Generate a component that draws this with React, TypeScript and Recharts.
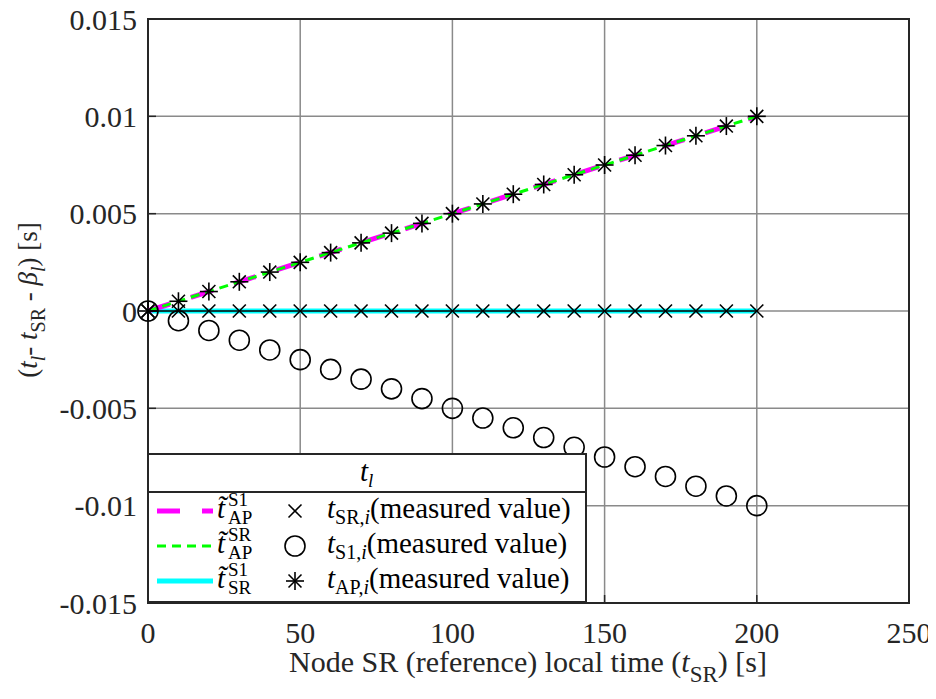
import React from "react";
import {
  ComposedChart,
  Line,
  XAxis,
  YAxis,
  CartesianGrid,
  ReferenceArea,
} from "recharts";

// node SR local time samples [s]
const xValues = [0, 10, 20, 30, 40, 50, 60, 70, 80, 90, 100, 110, 120, 130, 140, 150, 160, 170, 180, 190, 200];

// measured offsets (t_l - t_SR - beta_l) [s]
const srMeasured = [0, 0, 0, 0, 0, 0, 0, 0, 0, 0, 0, 0, 0, 0, 0, 0, 0, 0, 0, 0, 0];
const s1Measured = [0, -0.0005, -0.001, -0.0015, -0.002, -0.0025, -0.003, -0.0035, -0.004, -0.0045, -0.005, -0.0055, -0.006, -0.0065, -0.007, -0.0075, -0.008, -0.0085, -0.009, -0.0095, -0.01];
const apMeasured = [0, 0.0005, 0.001, 0.0015, 0.002, 0.0025, 0.003, 0.0035, 0.004, 0.0045, 0.005, 0.0055, 0.006, 0.0065, 0.007, 0.0075, 0.008, 0.0085, 0.009, 0.0095, 0.01];

// estimated offsets
const apEstViaS1 = [0, 0.0005, 0.001, 0.0015, 0.002, 0.0025, 0.003, 0.0035, 0.004, 0.0045, 0.005, 0.0055, 0.006, 0.0065, 0.007, 0.0075, 0.008, 0.0085, 0.009, 0.0095, 0.01];
const apEstViaSR = [0, 0.0005, 0.001, 0.0015, 0.002, 0.0025, 0.003, 0.0035, 0.004, 0.0045, 0.005, 0.0055, 0.006, 0.0065, 0.007, 0.0075, 0.008, 0.0085, 0.009, 0.0095, 0.01];
const srEstViaS1 = [0, 0, 0, 0, 0, 0, 0, 0, 0, 0, 0, 0, 0, 0, 0, 0, 0, 0, 0, 0, 0];

const xTicks = [0, 50, 100, 150, 200, 250];
const yTicks = [-0.015, -0.01, -0.005, 0, 0.005, 0.01, 0.015];

const data = xValues.map((x, i) => ({
  x,
  sr: srMeasured[i],
  s1: s1Measured[i],
  ap: apMeasured[i],
  estS1: apEstViaS1[i],
  estSR: apEstViaSR[i],
  estSr: srEstViaS1[i],
}));

const FONT = "Liberation Serif";
const INK = "#262626";

function Cross({ cx, cy, s = 6.5 }: { cx: number; cy: number; s?: number }) {
  return (
    <g stroke="#000" strokeWidth={1.6}>
      <line x1={cx - s} y1={cy - s} x2={cx + s} y2={cy + s} />
      <line x1={cx - s} y1={cy + s} x2={cx + s} y2={cy - s} />
    </g>
  );
}

function Ring({ cx, cy }: { cx: number; cy: number }) {
  return <circle cx={cx} cy={cy} r={10} fill="none" stroke="#000" strokeWidth={1.6} />;
}

function Star({ cx, cy, s = 9 }: { cx: number; cy: number; s?: number }) {
  const d = s * 0.72;
  return (
    <g stroke="#000" strokeWidth={1.6}>
      <line x1={cx} y1={cy - s} x2={cx} y2={cy + s} />
      <line x1={cx - s} y1={cy} x2={cx + s} y2={cy} />
      <line x1={cx - d} y1={cy - d} x2={cx + d} y2={cy + d} />
      <line x1={cx - d} y1={cy + d} x2={cx + d} y2={cy - d} />
    </g>
  );
}

const dotCross = (p: any) => <Cross key={`c${p.index}`} cx={p.cx} cy={p.cy} />;
const dotRing = (p: any) => <Ring key={`r${p.index}`} cx={p.cx} cy={p.cy} />;
const dotStar = (p: any) => <Star key={`s${p.index}`} cx={p.cx} cy={p.cy} />;

const fmtY = (v: number) => (v === 0 ? "0" : String(v));

function LegendBox() {
  const rows = [58, 93, 128];
  const base = [65, 100, 135];
  const subs = ["SR,", "S1,", "AP,"];
  const sups = ["S1", "SR", "S1"];
  const lows = ["AP", "AP", "SR"];
  return (
    <svg
      width={440}
      height={150}
      fontFamily={FONT}
      style={{ position: "absolute", left: 147, top: 453 }}
    >
      <rect x={1} y={1} width={438} height={148} fill="#fff" stroke={INK} strokeWidth={2} />
      <line x1={1} y1={39} x2={439} y2={39} stroke={INK} strokeWidth={2} />
      <text x={213} y={28} fontSize={29} fill="#000">
        <tspan fontStyle="italic">t</tspan>
        <tspan fontSize={19} fontStyle="italic" dy={6}>l</tspan>
      </text>

      {/* line samples */}
      <line x1={10} y1={rows[0]} x2={66} y2={rows[0]} stroke="#ff00ff" strokeWidth={5} strokeDasharray="23 22" />
      <line x1={10} y1={rows[1]} x2={66} y2={rows[1]} stroke="#00ff00" strokeWidth={3} strokeDasharray="9 6" />
      <line x1={10} y1={rows[2]} x2={66} y2={rows[2]} stroke="#00ffff" strokeWidth={5} />

      {rows.map((ry, i) => (
        <g key={i}>
          <text x={70} y={base[i]} fontSize={29} fontStyle="italic" fill="#000">
            {"t\u0303"}
          </text>
          <text x={81} y={base[i] - 12} fontSize={19} fill="#000">{sups[i]}</text>
          <text x={81} y={base[i] + 6} fontSize={19} fill="#000">{lows[i]}</text>
          {i === 0 && <Cross cx={148} cy={ry} />}
          {i === 1 && <Ring cx={148} cy={ry} />}
          {i === 2 && <Star cx={148} cy={ry} />}
          <text x={180} y={base[i]} fontSize={29} fill="#000">
            <tspan fontStyle="italic">t</tspan>
            <tspan fontSize={20} dy={6}>{subs[i]}</tspan>
            <tspan fontSize={20} fontStyle="italic">i</tspan>
            <tspan dy={-6}>(measured value)</tspan>
          </text>
        </g>
      ))}
    </svg>
  );
}

function AxisTitles() {
  return (
    <svg
      width={936}
      height={699}
      fontFamily={FONT}
      style={{ position: "absolute", left: 0, top: 0, pointerEvents: "none" }}
    >
      <text x={528} y={672} fontSize={30} fill={INK} textAnchor="middle">
        <tspan>Node SR (reference) local time (</tspan>
        <tspan fontStyle="italic">t</tspan>
        <tspan fontSize={23} dy={10}>SR</tspan>
        <tspan dy={-10}>) [s]</tspan>
      </text>
      <text
        x={0}
        y={0}
        fontSize={27}
        fill={INK}
        textAnchor="middle"
        transform="translate(37,300) rotate(-90)"
      >
        <tspan>(</tspan>
        <tspan fontStyle="italic">t</tspan>
        <tspan fontSize={20} fontStyle="italic" dy={8}>l</tspan>
        <tspan dy={-8}>- </tspan>
        <tspan fontStyle="italic">t</tspan>
        <tspan fontSize={20} dy={8}>SR</tspan>
        <tspan dy={-8}> - </tspan>
        <tspan fontStyle="italic">β</tspan>
        <tspan fontSize={20} fontStyle="italic" dy={8}>l</tspan>
        <tspan dy={-8}>) [s]</tspan>
      </text>
    </svg>
  );
}

export default function App() {
  const tick = { fill: INK, fontSize: 30, fontFamily: FONT };
  const tickLine = { stroke: INK, strokeWidth: 1.5 };
  return (
    <div style={{ position: "relative", width: 936, height: 699, margin: -8, background: "#fff", fontFamily: FONT }}>
      <ComposedChart
        width={936}
        height={699}
        data={data}
        margin={{ top: 19, right: 27, left: 0, bottom: 0 }}
      >
        <CartesianGrid stroke="#8a8a8a" strokeWidth={1.5} />
        <XAxis
          dataKey="x"
          type="number"
          domain={[0, 250]}
          ticks={xTicks}
          height={96}
          tick={tick}
          tickLine={tickLine}
          tickSize={-8}
          axisLine={false}
          tickMargin={27}
        />
        <YAxis
          type="number"
          domain={[-0.015, 0.015]}
          ticks={yTicks}
          width={148}
          tick={tick}
          tickLine={tickLine}
          tickSize={-8}
          axisLine={false}
          tickMargin={19}
          tickFormatter={fmtY}
        />
        <ReferenceArea
          x1={0}
          x2={250}
          y1={-0.015}
          y2={0.015}
          fill="none"
          stroke={INK}
          strokeWidth={2}
        />
        <Line dataKey="estSr" stroke="#00ffff" strokeWidth={5} dot={false} activeDot={false} isAnimationActive={false} />
        <Line dataKey="estS1" stroke="#ff00ff" strokeWidth={5} strokeDasharray="23 22" dot={false} activeDot={false} isAnimationActive={false} />
        <Line dataKey="estSR" stroke="#00ff00" strokeWidth={3} strokeDasharray="9 6" dot={false} activeDot={false} isAnimationActive={false} />
        <Line dataKey="sr" stroke="#000" strokeWidth={1.5} dot={dotCross} activeDot={false} isAnimationActive={false} />
        <Line dataKey="s1" stroke="none" dot={dotRing} activeDot={false} isAnimationActive={false} />
        <Line dataKey="ap" stroke="none" dot={dotStar} activeDot={false} isAnimationActive={false} />
      </ComposedChart>
      <AxisTitles />
      <LegendBox />
    </div>
  );
}
